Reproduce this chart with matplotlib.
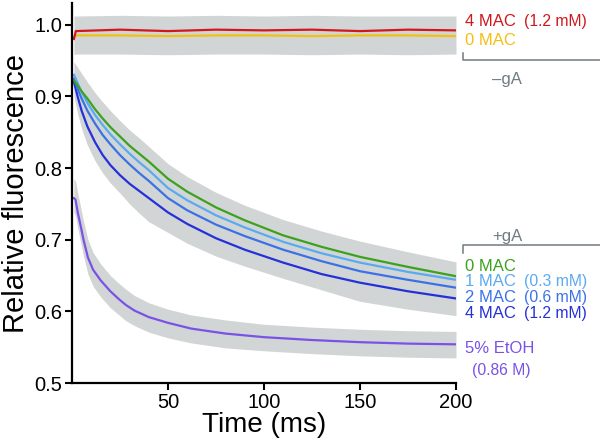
import numpy as np
import matplotlib.pyplot as plt

plt.rcParams['font.family'] = ['Liberation Sans', 'DejaVu Sans']

# ---- data ----
# -gA traces (flat)
t_nogA = [1, 2, 25, 50, 75, 100, 125, 150, 175, 200]
mac4_nogA = [0.980, 0.991, 0.993, 0.991, 0.993, 0.992, 0.993, 0.991, 0.993, 0.992]
mac0_nogA = [0.983, 0.985, 0.985, 0.984, 0.985, 0.985, 0.984, 0.985, 0.985, 0.984]
nogA_upper = [1.012, 1.012, 1.013, 1.012, 1.013, 1.012, 1.013, 1.012, 1.012, 1.012]
nogA_lower = [0.958, 0.959, 0.959, 0.958, 0.959, 0.959, 0.958, 0.959, 0.958, 0.959]

# +gA traces
t_gA = [1, 3, 5, 8, 12, 16, 20, 25, 30, 35, 40, 50, 60, 75, 90, 110, 130, 150, 175, 200]
mac0 = [0.922, 0.915, 0.907, 0.897, 0.882, 0.869, 0.857, 0.844, 0.831, 0.820,
        0.809, 0.785, 0.767, 0.745, 0.727, 0.706, 0.690, 0.676, 0.662, 0.649]
mac1 = [0.930, 0.918, 0.906, 0.891, 0.874, 0.860, 0.847, 0.833, 0.820, 0.808,
        0.797, 0.772, 0.755, 0.734, 0.717, 0.697, 0.681, 0.668, 0.655, 0.644]
mac2 = [0.925, 0.910, 0.897, 0.880, 0.862, 0.846, 0.833, 0.818, 0.805, 0.793,
        0.782, 0.758, 0.741, 0.721, 0.705, 0.686, 0.670, 0.656, 0.644, 0.633]
mac4 = [0.920, 0.899, 0.880, 0.858, 0.836, 0.818, 0.804, 0.790, 0.778, 0.768,
        0.758, 0.738, 0.722, 0.702, 0.686, 0.668, 0.652, 0.640, 0.628, 0.618]
gA_upper = [0.948, 0.940, 0.932, 0.920, 0.905, 0.892, 0.880, 0.866, 0.853, 0.842,
            0.830, 0.806, 0.788, 0.766, 0.748, 0.728, 0.712, 0.698, 0.683, 0.669]
gA_lower = [0.900, 0.875, 0.855, 0.832, 0.810, 0.793, 0.779, 0.765, 0.750, 0.737,
            0.725, 0.710, 0.695, 0.677, 0.663, 0.646, 0.630, 0.614, 0.603, 0.594]

# 5% EtOH
t_etoh = [1, 1.8, 3, 4.7, 6, 8.3, 11, 15, 20, 24, 28, 32.6, 40, 50, 62, 80,
          100, 125, 150, 175, 200]
etoh = [0.758, 0.756, 0.738, 0.717, 0.700, 0.675, 0.658, 0.643, 0.628, 0.618, 0.609,
        0.601, 0.592, 0.584, 0.576, 0.569, 0.564, 0.560, 0.557, 0.555, 0.554]
etoh_upper = [0.785, 0.782, 0.765, 0.743, 0.726, 0.700, 0.682, 0.666, 0.650, 0.640, 0.631,
              0.622, 0.612, 0.603, 0.595, 0.588, 0.582, 0.578, 0.575, 0.573, 0.572]
etoh_lower = [0.738, 0.734, 0.716, 0.694, 0.677, 0.652, 0.635, 0.620, 0.605, 0.596, 0.587,
              0.580, 0.571, 0.563, 0.556, 0.549, 0.545, 0.541, 0.538, 0.536, 0.535]

xticks = [50, 100, 150, 200]
yticks = [0.5, 0.6, 0.7, 0.8, 0.9, 1.0]

c_red = '#d0181c'
c_yel = '#f5bf12'
c_grn = '#3ca21e'
c_lb = '#5aaaf0'
c_mb = '#3a72e6'
c_db = '#2431d8'
c_pur = '#7a52e6'
c_gray = '#6f7c80'
band = '#d2d5d5'

fig = plt.figure(figsize=(6, 4.48), dpi=100)
ax = fig.add_axes([0.12, 0.145, 0.64, 0.848])

for t, lo, hi in [(t_nogA, nogA_lower, nogA_upper), (t_gA, gA_lower, gA_upper),
                  (t_etoh, etoh_lower, etoh_upper)]:
    ax.fill_between(t, lo, hi, color=band, lw=0)

lw = 1.6
ax.plot(t_nogA, mac0_nogA, color=c_yel, lw=lw)
ax.plot(t_nogA, mac4_nogA, color=c_red, lw=lw)
ax.plot(t_gA, mac4, color=c_db, lw=lw)
ax.plot(t_gA, mac2, color=c_mb, lw=lw)
ax.plot(t_gA, mac1, color=c_lb, lw=lw)
ax.plot(t_gA, mac0, color=c_grn, lw=lw)
ax.plot(t_etoh, etoh, color=c_pur, lw=lw)

ax.set_xlim(0, 200)
ax.set_ylim(0.5, 1.03)
ax.set_xticks(xticks)
ax.set_yticks(yticks)
ax.set_yticklabels(['%.1f' % v for v in yticks])
ax.tick_params(direction='out', length=5, width=1.5, labelsize=14.5, pad=2)
for s in ['top', 'right']:
    ax.spines[s].set_visible(False)
for s in ['left', 'bottom']:
    ax.spines[s].set_linewidth(1.6)

ax.set_xlabel('Time (ms)', fontsize=20, labelpad=0)
ax.set_ylabel('Relative fluorescence', fontsize=21, labelpad=3)

# ---- right-hand labels ----
big = 12
small = 11.3
x0 = 204.5
xp = x0 + 31
kw = dict(clip_on=False, va='center', ha='left')
ax.text(x0, 1.004, '4 MAC', color=c_red, fontsize=big, **kw)
ax.text(xp, 1.004, '(1.2 mM)', color=c_red, fontsize=small, **kw)
ax.text(x0, 0.978, '0 MAC', color=c_yel, fontsize=big, **kw)
ax.text(x0 + 14.5, 0.924, '\u2013gA', color=c_gray, fontsize=big, **kw)
ax.text(x0 + 14.5, 0.705, '+gA', color=c_gray, fontsize=big, **kw)
ax.text(x0, 0.662, '0 MAC', color=c_grn, fontsize=big, **kw)
ax.text(x0, 0.641, '1 MAC', color=c_lb, fontsize=big, **kw)
ax.text(xp, 0.641, '(0.3 mM)', color=c_lb, fontsize=small, **kw)
ax.text(x0, 0.619, '2 MAC', color=c_mb, fontsize=big, **kw)
ax.text(xp, 0.619, '(0.6 mM)', color=c_mb, fontsize=small, **kw)
ax.text(x0, 0.597, '4 MAC', color=c_db, fontsize=big, **kw)
ax.text(xp, 0.597, '(1.2 mM)', color=c_db, fontsize=small, **kw)
ax.text(x0, 0.548, '5% EtOH', color=c_pur, fontsize=big, **kw)
ax.text(x0 + 4, 0.518, '(0.86 M)', color=c_pur, fontsize=small, **kw)

# brackets
ax.plot([203.5, 203.5, 275], [0.961, 0.951, 0.951], color=c_gray, lw=1.1, clip_on=False)
ax.plot([203.5, 203.5, 275], [0.682, 0.692, 0.692], color=c_gray, lw=1.1, clip_on=False)

fig.savefig('out.png', dpi=100)
